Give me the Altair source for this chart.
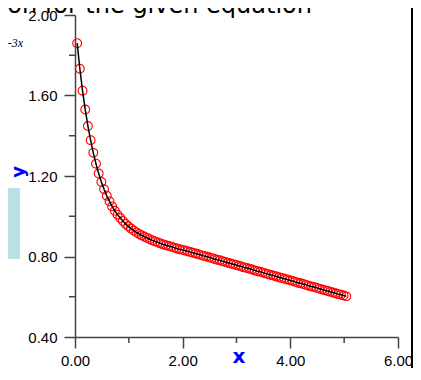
import altair as alt
import pandas as pd

# sample positions (x) and values (y)
x_vals = [0.04, 0.09, 0.14, 0.19, 0.24, 0.29, 0.34, 0.39, 0.44, 0.49,
          0.54, 0.59, 0.64, 0.69, 0.74, 0.79, 0.84, 0.89, 0.94, 0.99,
          1.04, 1.09, 1.14, 1.19, 1.24, 1.29, 1.34, 1.39, 1.44, 1.49,
          1.54, 1.59, 1.64, 1.69, 1.74, 1.79, 1.84, 1.89, 1.94, 1.99,
          2.04, 2.09, 2.14, 2.19, 2.24, 2.29, 2.34, 2.39, 2.44, 2.49,
          2.54, 2.59, 2.64, 2.69, 2.74, 2.79, 2.84, 2.89, 2.94, 2.99,
          3.04, 3.09, 3.14, 3.19, 3.24, 3.29, 3.34, 3.39, 3.44, 3.49,
          3.54, 3.59, 3.64, 3.69, 3.74, 3.79, 3.84, 3.89, 3.94, 3.99,
          4.04, 4.09, 4.14, 4.19, 4.24, 4.29, 4.34, 4.39, 4.44, 4.49,
          4.54, 4.59, 4.64, 4.69, 4.74, 4.79, 4.84, 4.89, 4.94, 4.99,
          5.04]
y_vals = [1.860, 1.733, 1.624, 1.530, 1.448, 1.378, 1.315, 1.261, 1.212, 1.170,
          1.134, 1.102, 1.074, 1.049, 1.027, 1.008, 0.991, 0.976, 0.962, 0.950,
          0.939, 0.929, 0.920, 0.912, 0.905, 0.898, 0.892, 0.886, 0.880, 0.875,
          0.870, 0.865, 0.860, 0.856, 0.852, 0.848, 0.844, 0.840, 0.836, 0.833,
          0.830, 0.826, 0.822, 0.819, 0.815, 0.811, 0.807, 0.803, 0.800, 0.796,
          0.792, 0.788, 0.784, 0.781, 0.777, 0.773, 0.769, 0.765, 0.762, 0.758,
          0.754, 0.750, 0.746, 0.743, 0.739, 0.735, 0.731, 0.727, 0.724, 0.720,
          0.716, 0.712, 0.708, 0.705, 0.701, 0.697, 0.693, 0.689, 0.686, 0.682,
          0.678, 0.674, 0.670, 0.667, 0.663, 0.659, 0.655, 0.651, 0.648, 0.644,
          0.640, 0.636, 0.632, 0.629, 0.625, 0.621, 0.617, 0.613, 0.610, 0.606,
          0.602]

x_major = [0, 2, 4, 6]
x_minor = [1, 3, 5]
y_major = [0.4, 0.8, 1.2, 1.6, 2.0]
y_minor = [0.6, 1.0, 1.4, 1.8]

title_text = "on for the given equation"
eq_fragment = "-3x"
x_title = "x"
y_title = "y"

W, H = 323, 322
AX = "#444444"
BLUE = "#0000ff"

df = pd.DataFrame({"x": x_vals, "y": y_vals})

xs = alt.Scale(domain=[0, 6], nice=False, zero=False)
ys = alt.Scale(domain=[0.4, 2.0], nice=False, zero=False)

x_axis = alt.Axis(values=x_major, format=".2f", tickSize=11, tickWidth=1.5,
                  tickColor=AX, domainColor=AX, domainWidth=1.5, grid=False,
                  labelFont="Liberation Sans", labelFontSize=15, labelColor="black",
                  labelPadding=5, labelFlush=False, labelOverlap=False, title=None)
y_axis = alt.Axis(values=y_major, format=".2f", tickSize=11, tickWidth=1.5,
                  tickColor=AX, domainColor=AX, domainWidth=1.5, grid=False,
                  labelFont="Liberation Sans", labelFontSize=15, labelColor="black",
                  labelPadding=7, labelFlush=False, labelOverlap=False, title=None)

points = alt.Chart(df).mark_point(shape="circle", filled=False, color="#ff0000",
                                  size=78, strokeWidth=1.1, opacity=1).encode(
    x=alt.X("x:Q", scale=xs, axis=x_axis),
    y=alt.Y("y:Q", scale=ys, axis=y_axis),
)
line = alt.Chart(df).mark_line(color="black", strokeWidth=1.5).encode(
    x=alt.X("x:Q", scale=xs), y=alt.Y("y:Q", scale=ys)
)

xminor = alt.Chart(pd.DataFrame({"v": x_minor})).mark_rule(color=AX, strokeWidth=1.5).encode(
    x=alt.X("v:Q", scale=xs), y=alt.value(H), y2=alt.value(H + 6)
)
yminor = alt.Chart(pd.DataFrame({"v": y_minor})).mark_rule(color=AX, strokeWidth=1.5).encode(
    y=alt.Y("v:Q", scale=ys), x=alt.value(0), x2=alt.value(-6)
)

title = alt.Chart(pd.DataFrame({"t": [title_text]})).mark_text(
    font="DejaVu Sans", fontSize=24, align="right",
    baseline="alphabetic", color="black").encode(
    text="t:N", x=alt.value(237), y=alt.value(-2.5))

eq = alt.Chart(pd.DataFrame({"t": [eq_fragment]})).mark_text(
    font="Liberation Serif", fontStyle="italic", fontSize=12, align="right",
    baseline="alphabetic", color="black").encode(
    text="t:N", x=alt.value(-52), y=alt.value(32))

box = alt.Chart(pd.DataFrame({"t": [0]})).mark_rect(color="#b9e0e3").encode(
    x=alt.value(-90), x2=alt.value(-55), y=alt.value(173), y2=alt.value(244))

xt = alt.Chart(pd.DataFrame({"t": [x_title]})).mark_text(
    font="DejaVu Sans", fontWeight="bold", fontSize=20, align="center",
    baseline="alphabetic", color=BLUE).encode(
    text="t:N", x=alt.value(164), y=alt.value(348))

yt = alt.Chart(pd.DataFrame({"t": [y_title]})).mark_text(
    font="DejaVu Sans", fontWeight="bold", fontSize=18, align="center",
    baseline="middle", angle=270, color=BLUE).encode(
    text="t:N", x=alt.value(-56), y=alt.value(157))

border = alt.Chart(pd.DataFrame({"t": [0]})).mark_rule(color="black", strokeWidth=2).encode(
    x=alt.value(337), y=alt.value(-15), y2=alt.value(365))

chart = alt.layer(box, points, line, xminor, yminor, title, eq, xt, yt, border).properties(
    width=W, height=H,
    autosize=alt.AutoSizeParams(type="none"),
    padding={"left": 67, "top": 7, "right": 15, "bottom": 31},
    background="white",
).configure_view(strokeWidth=0)

chart.save("out.html", embed_options={"renderer": "svg", "actions": False})
